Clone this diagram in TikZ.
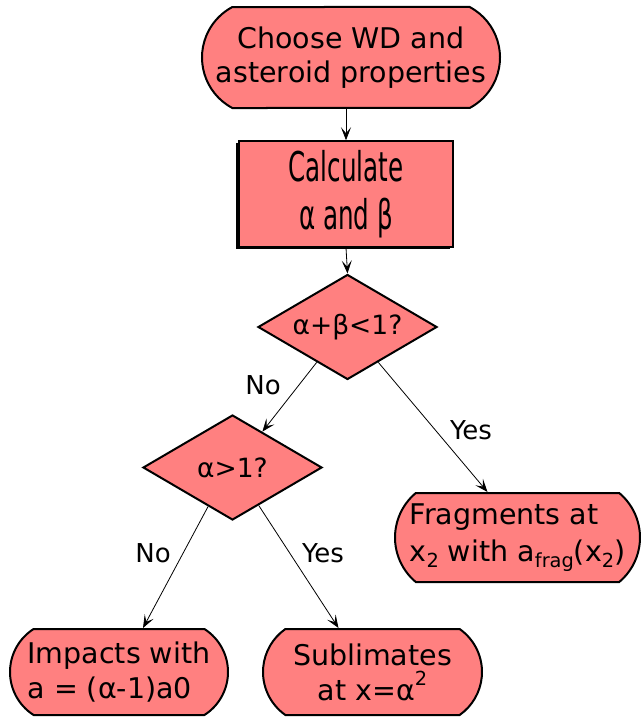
\documentclass[tikz,border=0pt]{standalone}
\usepackage{fontspec}
\setmainfont{DejaVu Sans}
\usetikzlibrary{shapes.geometric,shapes.misc,arrows.meta,calc,shadows}
\definecolor{boxfill}{RGB}{255,128,128}
\newcommand\lowt[1]{\raisebox{-0.35ex}{\scalebox{0.68}{#1}}}
\newcommand\hight[1]{\raisebox{0.95ex}{\scalebox{0.68}{#1}}}
\begin{document}
\begin{tikzpicture}[x=1pt,y=-1pt,
  term/.style={rounded rectangle, rounded rectangle arc length=#1, draw=black, line width=2pt, fill=boxfill, inner sep=0pt, align=center},
  calcbox/.style={rectangle, draw=black, line width=1.5pt, fill=boxfill, inner sep=0pt, align=center,
    drop shadow={shadow xshift=-3pt, shadow yshift=-2pt, fill=black, opacity=1}},
  decision/.style={diamond, draw=black, line width=2pt, fill=boxfill, inner sep=0pt, aspect=1.7},
  conn/.style={-{Stealth[length=13pt,width=10pt,inset=6pt]}, line width=0.8pt},
  lab/.style={font=\fontsize{26}{30}\selectfont, inner sep=0pt}]
\useasboundingbox (0,0) rectangle (643,717);

\node[term=124, minimum width=298pt, minimum height=101pt, font=\fontsize{28.5}{34}\selectfont] (n1) at (351,57.5) {Choose WD and\\asteroid properties};
\node[calcbox, minimum width=214pt, minimum height=106pt, font=\fontsize{41}{48}\selectfont] (n2) at (346,194) {\scalebox{0.6}[1]{Calculate}\\\scalebox{0.6}[1]{α and β}};
\node[decision, minimum width=179pt, minimum height=105pt, font=\fontsize{26.5}{30}\selectfont] (d1) at (347.5,327) {α+β<1?};
\node[decision, minimum width=179pt, minimum height=105pt, font=\fontsize{26.5}{30}\selectfont] (d2) at (232.5,467.5) {α>1?};
\node[term=100, minimum width=245pt, minimum height=89pt, font=\fontsize{28.5}{37}\selectfont, align=left] (frag) at (517.5,537.5) {Fragments at\\x\lowt{2} with a\lowt{frag}(x\lowt{2})};
\node[term=115, minimum width=218pt, minimum height=86pt, font=\fontsize{28.5}{35}\selectfont, align=left] (imp) at (119,672) {Impacts with\\a = (α-1)a0};
\node[term=110, minimum width=219pt, minimum height=86pt, font=\fontsize{28.5}{35}\selectfont] (sub) at (372.5,672) {Sublimates\\at x=α\hight{2}};

\draw[conn] (n2.north |- n1.south) -- (n2.north);
\draw[conn] (n2.south) -- (d1.north);
\draw[conn] ($(d1.west)!0.66!(d1.south)$) -- ($(d2.north)!0.33!(d2.east)$);
\draw[conn] ($(d1.south)!0.34!(d1.east)$) -- ($(frag.north)+(-30,0)$);
\draw[conn] ($(d2.west)!0.73!(d2.south)$) -- ($(imp.north)+(24,0)$);
\draw[conn] ($(d2.south)!0.29!(d2.east)$) -- ($(sub.north)+(-34,0)$);

\node[lab] (l1) at (263,385) {No};
\node[lab] (l2) at (471,430) {Yes};
\node[lab] (l3) at (153,553) {No};
\node[lab] (l4) at (323,553) {Yes};
\end{tikzpicture}
\end{document}
